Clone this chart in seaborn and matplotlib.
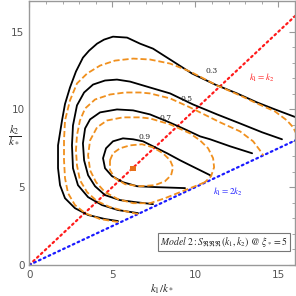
import numpy as np
import pandas as pd
import matplotlib
matplotlib.use('Agg')
import matplotlib.pyplot as plt
import seaborn as sns
from matplotlib.ticker import MultipleLocator

# ── contour lines, in units of k_* ──────────────────────────────────
# solid black contours (levels 0.3, 0.5, 0.7, 0.9)
b03_k1 = [5.34, 4.56, 3.54, 2.75, 2.15, 1.85, 1.73, 1.73, 1.97, 2.15, 2.45, 2.81,
          3.23, 3.60, 4.08, 4.50, 5.04, 5.89, 6.67, 7.45, 8.48, 9.80, 11.19, 12.51,
          13.72, 14.80, 16.07]
b03_k2 = [2.82, 2.95, 3.21, 3.65, 4.29, 5.13, 6.22, 7.69, 9.29, 10.35, 11.41, 12.44,
          13.33, 13.78, 14.23, 14.49, 14.68, 14.62, 14.23, 13.91, 13.21, 12.31, 11.60,
          11.03, 10.45, 10.00, 9.49]

b05_k1 = [6.55, 5.34, 4.38, 3.54, 2.93, 2.63, 2.57, 2.63, 2.87, 3.30, 3.84, 4.56,
          5.28, 6.07, 6.67, 7.27, 8.48, 9.86, 11.31, 12.69, 14.02, 15.22]
b05_k2 = [3.33, 3.53, 3.85, 4.36, 5.13, 6.22, 7.69, 8.97, 10.26, 11.09, 11.60, 11.86,
          11.92, 11.79, 11.60, 11.41, 11.03, 10.32, 9.68, 9.10, 8.53, 8.08]

b07_k1 = [7.45, 6.37, 5.46, 4.56, 3.96, 3.54, 3.30, 3.23, 3.36, 3.66, 4.26, 5.28,
          6.25, 7.27, 8.30, 9.26, 10.28, 10.89, 12.09, 13.42]
b07_k2 = [3.91, 4.04, 4.17, 4.49, 5.06, 5.77, 6.73, 7.82, 8.78, 9.36, 9.81, 10.00,
          9.94, 9.68, 9.23, 8.78, 8.27, 8.08, 7.63, 7.18]

b09_k1 = [10.89, 9.68, 9.08, 8.30, 7.45, 6.85, 6.25, 5.64, 5.04, 4.62, 4.44, 4.56,
          4.98, 5.64, 6.49, 7.69, 9.38]
b09_k2 = [5.77, 6.41, 6.73, 7.18, 7.63, 7.95, 8.08, 8.14, 7.95, 7.50, 6.86, 6.22,
          5.71, 5.32, 5.06, 5.00, 4.94]

# dashed orange contours
o1_k1 = [5.34, 4.26, 3.36, 2.75, 2.33, 2.15, 2.09, 2.09, 2.15, 2.45, 2.87, 3.48,
         4.26, 5.16, 6.25, 7.27, 8.48, 9.68, 11.31, 12.69, 13.72, 14.80, 15.52,
         15.89, 16.07]
o1_k2 = [2.76, 2.95, 3.33, 3.85, 4.62, 5.58, 6.73, 8.01, 9.29, 10.58, 11.67, 12.31,
         12.82, 13.14, 13.27, 13.21, 12.95, 12.44, 11.54, 10.90, 10.38, 9.87, 9.29,
         8.85, 8.46]

o2_k1 = [6.55, 5.77, 4.86, 4.08, 3.48, 3.05, 2.87, 2.81, 2.87, 3.05, 3.36, 3.96,
         4.86, 5.77, 6.67, 7.27, 8.48, 9.68, 11.49, 12.69, 13.48, 13.89, 14.08]
o2_k2 = [3.27, 3.46, 3.72, 4.10, 4.68, 5.45, 6.41, 7.37, 8.33, 9.29, 10.06, 10.64,
         10.96, 11.09, 11.09, 11.03, 10.71, 10.13, 9.17, 8.59, 7.95, 7.37, 7.05]

o3_k1 = [10.58, 9.98, 9.08, 8.17, 7.27, 6.25, 5.34, 4.56, 4.02, 3.66, 3.54, 3.66,
         4.08, 4.68, 5.64, 6.67, 7.27, 8.48, 9.68, 10.28, 10.77, 11.07, 11.13, 10.95,
         10.58]
o3_k2 = [5.32, 5.06, 4.68, 4.29, 3.97, 3.97, 4.23, 4.68, 5.32, 6.09, 7.05, 8.01,
         8.85, 9.29, 9.49, 9.49, 9.42, 9.04, 8.46, 8.01, 7.50, 6.86, 6.28, 5.71,
         5.32]

o4_k1 = [4.86, 5.04, 5.46, 6.07, 6.79, 7.45, 8.05, 8.48, 8.66, 8.54, 8.17, 7.57,
         6.67, 5.77, 5.16, 4.86, 4.86]
o4_k2 = [6.73, 7.18, 7.50, 7.69, 7.76, 7.56, 7.18, 6.73, 6.28, 5.77, 5.38, 5.13,
         5.06, 5.19, 5.58, 6.09, 6.73]

# contour level labels and where they sit
levels = ['0.3', '0.5', '0.7', '0.9']
level_k1 = [10.99, 9.48, 8.22, 6.97]
level_k2 = [12.46, 10.69, 9.47, 8.22]

# peak marker
peak_k1 = [6.25]
peak_k2 = [6.20]

# reference lines k1 = k2 and k1 = 2 k2
ref_k1 = [0.0, 17.0]


def to_frame(curves):
    rows = []
    for name, (xs, ys) in curves.items():
        rows.append(pd.DataFrame({'k1': xs, 'k2': ys, 'curve': name}))
    return pd.concat(rows, ignore_index=True)


black_df = to_frame({'0.3': (b03_k1, b03_k2), '0.5': (b05_k1, b05_k2),
                     '0.7': (b07_k1, b07_k2), '0.9': (b09_k1, b09_k2)})
orange_df = to_frame({'o1': (o1_k1, o1_k2), 'o2': (o2_k1, o2_k2),
                      'o3': (o3_k1, o3_k2), 'o4': (o4_k1, o4_k2)})
ref_df = pd.DataFrame({'k1': ref_k1,
                       'eq': [k for k in ref_k1],
                       'half': [k / 2 for k in ref_k1]})

# ── figure ─────────────────────────────────────────────────────────
sns.set_style('white')
plt.rcParams['mathtext.fontset'] = 'stix'
plt.rcParams['font.family'] = ['DejaVu Sans']

fig = plt.figure(figsize=(2.96, 2.96), dpi=100)
ax = fig.add_axes([0.099, 0.105, 0.8975, 0.893])

orange = '#F0901E'

# reference lines
sns.lineplot(data=ref_df, x='k1', y='eq', ax=ax, color='#FF1A1A',
             linestyle=(0, (0.8, 1.6)), linewidth=1.6, dash_capstyle='round')
sns.lineplot(data=ref_df, x='k1', y='half', ax=ax, color='#1A1AFF',
             linestyle=(0, (0.8, 1.6)), linewidth=1.6, dash_capstyle='round')

# contours
sns.lineplot(data=black_df, x='k1', y='k2', units='curve', estimator=None,
             sort=False, color='black', linewidth=1.3, ax=ax,
             solid_joinstyle='round', solid_capstyle='round')
sns.lineplot(data=orange_df, x='k1', y='k2', units='curve', estimator=None,
             sort=False, color=orange, linewidth=1.3,
             linestyle=(0, (3.4, 1.6)), dash_joinstyle='round', ax=ax)

sns.scatterplot(x=peak_k1, y=peak_k2, ax=ax, color='#E8701A', s=14,
                marker='s', edgecolor='none', zorder=5)

for lab, x, y in zip(levels, level_k1, level_k2):
    ax.text(x, y, lab, fontsize=5.5, ha='center', va='center',
            family='serif', math_fontfamily='stix')

ax.text(14.0, 12.05, r'$k_1 = k_2$', color='#FF1A1A', fontsize=6.5,
        ha='center', va='center')
ax.text(11.97, 4.68, r'$k_1 = 2k_2$', color='#1A1AFF', fontsize=6.5,
        ha='center', va='center')

ax.text(11.74, 1.47,
        r'$Model\ 2 : S_{\mathfrak{RRR}}(k_1, k_2)\ @\ \xi_* = 5$',
        fontsize=7, ha='center', va='center',
        bbox=dict(boxstyle='square,pad=0.25', facecolor='white',
                  edgecolor='#777777', linewidth=0.8))

# axes styling
ax.set_xlim(0, 16)
ax.set_ylim(0, 17)
ax.xaxis.set_major_locator(MultipleLocator(5))
ax.yaxis.set_major_locator(MultipleLocator(5))
ax.xaxis.set_minor_locator(MultipleLocator(1))
ax.yaxis.set_minor_locator(MultipleLocator(1))
ax.tick_params(which='both', direction='in', top=True, right=True,
               color='#999999', labelcolor='#555555', labelsize=7.5)
ax.tick_params(which='major', length=4, width=0.8)
ax.tick_params(which='minor', length=2, width=0.6)
for sp in ax.spines.values():
    sp.set_color('#999999')
    sp.set_linewidth(1.0)

ax.set_xlabel(r'$k_1/k_*$', fontsize=8)
ax.xaxis.set_label_coords(0.5, -0.065)
ax.set_ylabel(r'$\dfrac{k_2}{k_*}$', fontsize=8, rotation=0, va='center')
ax.yaxis.set_label_coords(-0.055, 0.49)

fig.savefig('out.png', dpi=100)
